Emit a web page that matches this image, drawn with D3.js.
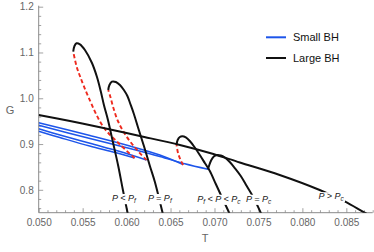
<!DOCTYPE html>
<html><head><meta charset="utf-8">
<script src="https://cdn.jsdelivr.net/npm/d3@7"></script>
<style>
html,body{margin:0;padding:0;background:#fff;}
svg{display:block;font-family:"Liberation Sans",Arial,sans-serif;}
</style></head>
<body><svg id="c" width="374" height="252"></svg>
<script>
// ---- data: [T, G] pairs ----
const smallBH_1 = [[0.0500,0.9278],[0.0524,0.9143],[0.0558,0.8957],[0.0587,0.8815],[0.0609,0.8695]];
const unstable_1 = [[0.0609,0.8695],[0.05924,0.8990],[0.05734,0.9379],[0.05564,1.0034],[0.05469,1.0486],[0.05432,1.0689],[0.05393,1.1017]];
const largeBH_1 = [[0.05393,1.1017],[0.05407,1.1141],[0.05430,1.1200],[0.05469,1.1178],[0.05526,1.1054],[0.05606,1.0770],[0.05663,1.0464],[0.05708,1.0137],[0.05742,0.9853],[0.05788,0.9525],[0.05844,0.9044],[0.05905,0.8520],[0.05958,0.7996],[0.06011,0.7500],[0.06022,0.7384]];

const smallBH_2 = [[0.0500,0.9333],[0.05242,0.9197],[0.05583,0.9016],[0.05924,0.8837],[0.06227,0.8651]];
const unstable_2 = [[0.06227,0.8651],[0.06094,0.8924],[0.05981,0.9219],[0.05901,0.9503],[0.05850,0.9787],[0.05816,1.0027],[0.05791,1.0180]];
const largeBH_2 = [[0.05791,1.0180],[0.05805,1.0289],[0.05833,1.0362],[0.05878,1.0355],[0.05924,1.0289],[0.05969,1.0180],[0.06009,1.0049],[0.06043,0.9874],[0.06083,0.9656],[0.06132,0.9350],[0.06197,0.8957],[0.06265,0.8520],[0.06322,0.8171],[0.06409,0.7500],[0.06424,0.7384]];

const smallBH_3 = [[0.0500,0.9464],[0.05583,0.9186],[0.06037,0.8957],[0.06378,0.8760],[0.06643,0.8553]];
const unstable_3 = [[0.06643,0.8542],[0.06614,0.8651],[0.06586,0.8798],[0.06568,0.8979]];
const largeBH_3 = [[0.06568,0.8979],[0.06581,0.9088],[0.06606,0.9154],[0.06634,0.9169],[0.06674,0.9143],[0.06719,0.9066],[0.06776,0.8924],[0.06833,0.8760],[0.06890,0.8586],[0.06947,0.8411],[0.07015,0.8127],[0.07083,0.7843],[0.07166,0.7500],[0.07191,0.7384]];

const smallBH_4 = [[0.0500,0.9409],[0.05583,0.9121],[0.06037,0.8902],[0.06378,0.8728],[0.06662,0.8568],[0.06927,0.8448]];
const largeBH_4 = [[0.06927,0.8448],[0.06941,0.8542],[0.06964,0.8651],[0.06992,0.8728],[0.07026,0.8760],[0.07072,0.8749],[0.07117,0.8706],[0.07174,0.8607],[0.07231,0.8476],[0.07299,0.8302],[0.07367,0.8083],[0.07447,0.7821],[0.07526,0.7500],[0.07555,0.7384]];

const largeBH_5 = [[0.0500,0.9634],[0.05356,0.9503],[0.05697,0.9365],[0.06151,0.9175],[0.06606,0.8979],[0.06947,0.8804],[0.07288,0.8597],[0.07742,0.8324],[0.08197,0.7996],[0.08481,0.7745],[0.08708,0.7500],[0.08822,0.7384]];

const curveLabels = [["P < P","f"],["P = P","f"],["P","f"," < P < P","c"],["P = P","c"],["P > P","c"]];
const labelT = [0.05969, 0.06378, 0.07049, 0.07503, 0.08327];
const labelG = [0.7756, 0.7756, 0.7740, 0.7740, 0.7795];

const xMajor = [0.050,0.055,0.060,0.065,0.070,0.075,0.080,0.085];
const yMajor = [0.8,0.9,1.0,1.1,1.2];
const legendNames = ["Small BH","Large BH"];

// ---- chart ----
const svg = d3.select("#c");
const x = d3.scaleLinear().domain([0.050,0.088]).range([38.7,372.7]);
const y = d3.scaleLinear().domain([0.75,1.2]).range([212.7,6.7]);
const xMinor = d3.range(50,89).map(v=>v/1000).filter(v=>!xMajor.some(m=>Math.abs(m-v)<1e-9));
const yMinor = d3.range(38,61).map(v=>v/50).filter(v=>!yMajor.some(m=>Math.abs(m-v)<1e-9));

svg.append("defs").append("clipPath").attr("id","plot")
  .append("rect").attr("x",38.7).attr("y",0).attr("width",335).attr("height",212.7);

const axisCol = "#8a8a8a", labCol = "#666";
const gx = svg.append("g").attr("transform",`translate(0,${y(0.75)})`);
gx.call(d3.axisBottom(x).tickValues(xMajor).tickSize(-4.5).tickPadding(6).tickFormat(d3.format(".3f")));
const gxm = svg.append("g").attr("transform",`translate(0,${y(0.75)})`);
gxm.call(d3.axisBottom(x).tickValues(xMinor).tickSize(-2.5).tickFormat(""));
const gy = svg.append("g").attr("transform",`translate(${x(0.05)},0)`);
gy.call(d3.axisLeft(y).tickValues(yMajor).tickSize(-4.5).tickPadding(5).tickFormat(d3.format(".1f")));
const gym = svg.append("g").attr("transform",`translate(${x(0.05)},0)`);
gym.call(d3.axisLeft(y).tickValues(yMinor).tickSize(-2.5).tickFormat(""));
[gx,gxm,gy,gym].forEach(g=>{
  g.select(".domain").attr("stroke",axisCol).attr("stroke-width",1);
  g.selectAll(".tick line").attr("stroke",axisCol).attr("stroke-width",0.8);
  g.selectAll(".tick text").attr("fill",labCol).style("font-size","10px").style("font-family","'Liberation Sans',Arial,sans-serif");
});
gxm.select(".domain").remove(); gym.select(".domain").remove();
gx.select(".domain").attr("d",`M${x(0.05)},0H${x(0.088)}`);
gy.select(".domain").attr("d",`M0,${y(0.75)}V${y(1.2)-1}`);

svg.append("text").attr("x",10).attr("y",114).attr("text-anchor","middle").attr("fill",labCol)
  .style("font-size","11px").text("G");
svg.append("text").attr("x",205).attr("y",242).attr("text-anchor","middle").attr("fill",labCol)
  .style("font-size","11px").text("T");

const line = d3.line().x(d=>x(d[0])).y(d=>y(d[1])).curve(d3.curveCatmullRom.alpha(0.5));
const plot = svg.append("g").attr("clip-path","url(#plot)");
const blue = "#1d55ea", red = "#ee2a1e", black = "#111";

[smallBH_1,smallBH_2,smallBH_3,smallBH_4].forEach(d=>{
  plot.append("path").attr("d",line(d)).attr("fill","none").attr("stroke",blue).attr("stroke-width",1.5);
});
[unstable_1,unstable_2,unstable_3].forEach(d=>{
  plot.append("path").attr("d",line(d)).attr("fill","none").attr("stroke",red).attr("stroke-width",1.9).attr("stroke-dasharray","4,2.6");
});
[largeBH_1,largeBH_2,largeBH_3,largeBH_4,largeBH_5].forEach(d=>{
  plot.append("path").attr("d",line(d)).attr("fill","none").attr("stroke",black).attr("stroke-width",2);
});

// curve labels (with white background, placed on the curves)
curveLabels.forEach((parts,i)=>{
  const g = svg.append("g");
  const bg = g.append("rect").attr("fill","#fff");
  const t = g.append("text").attr("x",x(labelT[i])).attr("y",y(labelG[i])).attr("text-anchor","middle")
    .attr("fill","#1a1a1a").style("font-size","9px").style("font-style","italic");
  parts.forEach((p,j)=>{
    const sub = (j%2===1);
    const ts = t.append("tspan").text(p);
    if(sub){ ts.attr("dy","2.2").style("font-size","6.5px"); }
    else if(j>0){ ts.attr("dy","-2.2"); }
  });
  const b = t.node().getBBox();
  bg.attr("x",b.x-0.5).attr("y",b.y+1).attr("width",b.width+1).attr("height",b.height-1);
});

// legend
const lg = svg.append("g");
[blue,black].forEach((c,i)=>{
  const yy = 37.3 + i*20.7;
  lg.append("line").attr("x1",266).attr("x2",286).attr("y1",yy).attr("y2",yy).attr("stroke",c).attr("stroke-width",2);
  lg.append("text").attr("x",293).attr("y",yy+4).attr("fill","#111").style("font-size","11px").text(legendNames[i]);
});
</script></body></html>
